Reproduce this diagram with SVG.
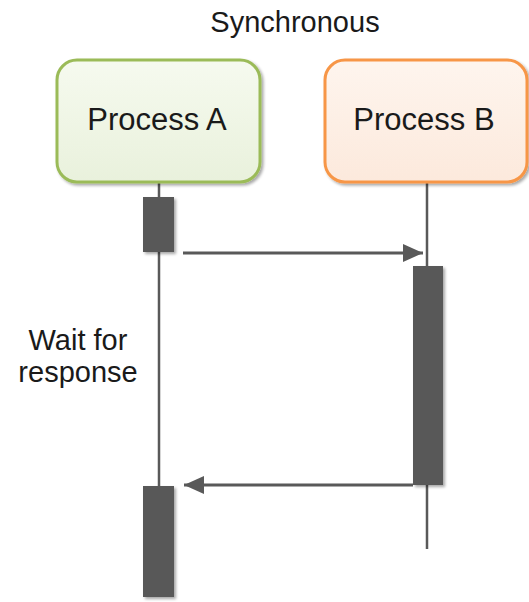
<svg xmlns="http://www.w3.org/2000/svg" width="529" height="602" viewBox="0 0 529 602">
  <style>
    text { font-family: "Liberation Sans", Arial, sans-serif; fill: #1a1a1a; }
    .title { font-size: 29px; }
    .label { font-size: 31px; }
    .note { font-size: 29px; }
    .life { stroke: #595959; stroke-width: 2.5; fill: none; }
    .msg { stroke: #595959; stroke-width: 3; fill: none; }
    .act { fill: #595959; filter: url(#shadow); }
  </style>
  <defs>
    <linearGradient id="gradA" x1="0" y1="0" x2="0" y2="1">
      <stop offset="0" stop-color="#f6faef"/>
      <stop offset="1" stop-color="#e9f1dc"/>
    </linearGradient>
    <linearGradient id="gradB" x1="0" y1="0" x2="0" y2="1">
      <stop offset="0" stop-color="#fef5ee"/>
      <stop offset="1" stop-color="#fce9dc"/>
    </linearGradient>
    <filter id="shadow" x="-30%" y="-30%" width="160%" height="160%">
      <feGaussianBlur in="SourceAlpha" stdDeviation="1.5"/>
      <feOffset dx="2" dy="2" result="b"/>
      <feComponentTransfer><feFuncA type="linear" slope="0.35"/></feComponentTransfer>
      <feMerge><feMergeNode/><feMergeNode in="SourceGraphic"/></feMerge>
    </filter>
    <marker id="head" viewBox="0 0 20 18" refX="20" refY="9" markerWidth="20" markerHeight="18" markerUnits="userSpaceOnUse" orient="auto">
      <path d="M0,0 L20,9 L0,18 Z" fill="#595959"/>
    </marker>
  </defs>

  <text class="title" x="295" y="32" text-anchor="middle">Synchronous</text>

  <!-- lifelines -->
  <g id="lifelines">
    <line class="life" x1="159" y1="182" x2="159" y2="590"/>
    <line class="life" x1="427" y1="182" x2="427" y2="549"/>
  </g>

  <g id="processA">
    <rect x="57" y="60" width="203" height="122" rx="20" fill="url(#gradA)" stroke="#9bbb59" stroke-width="3" filter="url(#shadow)"/>
    <text class="label" x="157" y="130" text-anchor="middle">Process A</text>
  </g>

  <g id="processB">
    <rect x="325" y="60" width="202" height="122" rx="20" fill="url(#gradB)" stroke="#f79646" stroke-width="3" filter="url(#shadow)"/>
    <text class="label" x="424" y="130" text-anchor="middle">Process B</text>
  </g>

  <!-- activation bars -->
  <g id="activationA1"><rect class="act" x="143" y="197" width="31" height="55"/></g>
  <g id="activationB"><rect class="act" x="413" y="266" width="30" height="219"/></g>
  <g id="activationA2"><rect class="act" x="143" y="486" width="31" height="111"/></g>

  <!-- messages -->
  <g id="connectors">
    <line class="msg" x1="183" y1="253" x2="423" y2="253" marker-end="url(#head)"/>
    <line class="msg" x1="413" y1="485" x2="184" y2="485" marker-end="url(#head)"/>
  </g>

  <g id="waitNote">
    <text class="note" x="78" y="350" text-anchor="middle">Wait for</text>
    <text class="note" x="78" y="382" text-anchor="middle">response</text>
  </g>
</svg>
